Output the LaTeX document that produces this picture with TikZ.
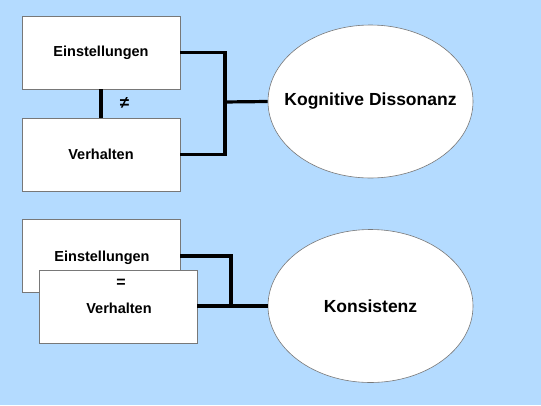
\documentclass[tikz,border=0pt]{standalone}
\usepackage{fontspec}
\setmainfont{Liberation Sans}
\usetikzlibrary{positioning,shapes.geometric}

\definecolor{skyback}{RGB}{180,219,255}
\definecolor{boxedge}{RGB}{120,120,120}

\begin{document}
\begin{tikzpicture}[x=1pt,y=-1pt,                % pixel grid
                    every node/.style={font=\bfseries},
                    card/.style={draw=boxedge,fill=white,line width=0.6pt,
                                 minimum width=158pt,minimum height=73pt,
                                 inner sep=0pt,font=\fontsize{14.5}{16}\bfseries},
                    bubble/.style={ellipse,draw=boxedge,fill=white,line width=0.6pt,
                                   minimum width=205pt,minimum height=153pt,
                                   inner sep=0pt},
                    word/.style={font=\fontsize{17.5}{20}\bfseries},
                    link/.style={line width=3.2pt,black,line join=miter}]

% ---------------------------------------------------------------
% Background
\fill[skyback] (0,0) rectangle (541,405);

% ---------------------------------------------------------------
% Upper part: dissonance
\node[card]   (einA) at (101,52.5)   {Einstellungen};
\node[card]   (verA) at (101,154.5)  {Verhalten};
\node[bubble] (diss) at (370.5,101.5) {};
\node[word]   (dissT) at (diss.center) {Kognitive Dissonanz};

\coordinate (jointA) at (225,102);

\draw[link] (einA.south) -- (verA.north)
      node[pos=0.5,right=14pt,font=\fontsize{17}{18}\bfseries] {≠};
\draw[link] (einA.east) -| (jointA) |- (verA.east);
\draw[link] ([xshift=-1.6pt]jointA) -- (diss.west);

% ---------------------------------------------------------------
% Lower part: consistency
\node[card]   (einB) at (101,256) {};
\node[font=\fontsize{14.5}{16}\bfseries] (einBt) at (102,258) {Einstellungen};
\node[card]   (verB) at (118,306.5) {};
\node[font=\fontsize{16}{16}\bfseries] (same) at (121,283) {=};
\node[font=\fontsize{14.5}{16}\bfseries] (verBt) at (119,308) {Verhalten};
\node[bubble] (kons) at (370.5,306) {};
\node[word]   (konsT) at (kons.center) {Konsistenz};

\coordinate (jointB) at (231,306);

\draw[link] (einB.east) -| ([yshift=1.6pt]jointB);
\draw[link] (verB.east |- kons.west) -- (kons.west);

\end{tikzpicture}
\end{document}
